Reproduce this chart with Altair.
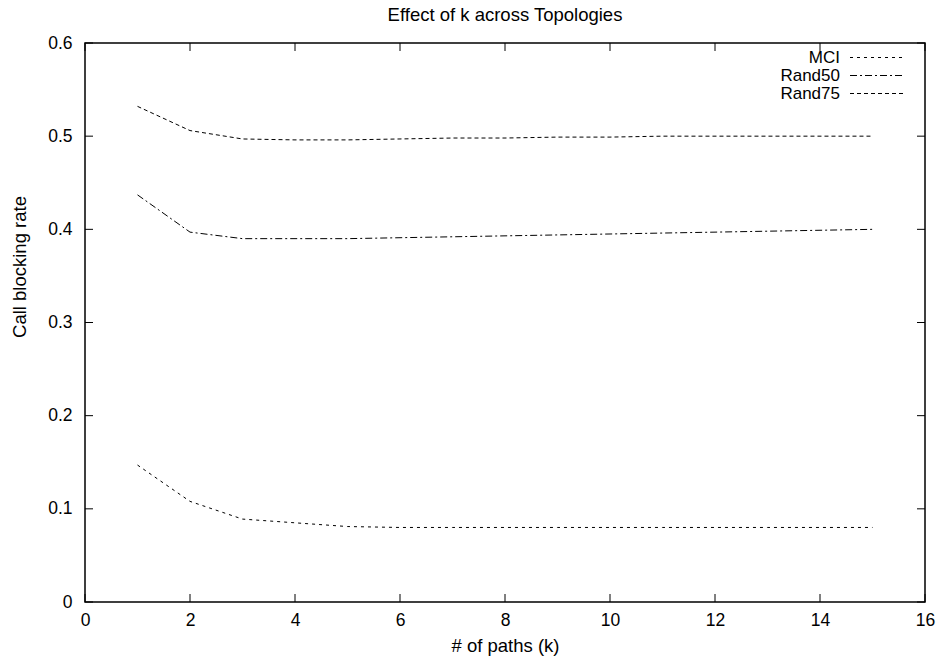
import altair as alt
import pandas as pd

k_values = list(range(1, 16))
mci = [0.147, 0.108, 0.089, 0.085, 0.081, 0.080, 0.080, 0.080, 0.080, 0.080, 0.080, 0.080, 0.080, 0.080, 0.080]
rand50 = [0.437, 0.397, 0.390, 0.390, 0.390, 0.391, 0.392, 0.393, 0.394, 0.395, 0.396, 0.397, 0.398, 0.399, 0.400]
rand75 = [0.532, 0.506, 0.497, 0.496, 0.496, 0.497, 0.498, 0.498, 0.499, 0.499, 0.500, 0.500, 0.500, 0.500, 0.500]
series_names = ["MCI", "Rand50", "Rand75"]
x_ticks = list(range(0, 17, 2))
y_ticks = [0, 0.1, 0.2, 0.3, 0.4, 0.5, 0.6]

dashes = {"MCI": [3, 4], "Rand50": [7, 3, 2, 3], "Rand75": [4, 3]}

rows = []
for name, vals in zip(series_names, [mci, rand50, rand75]):
    for k, v in zip(k_values, vals):
        rows.append({"series": name, "k": k, "rate": v})
df = pd.DataFrame(rows)

W, H = 840, 559
FONT = "Liberation Sans"
FS_TICK = 17.5
FS_TITLE = 18.5
FS_LEG = 17

xscale = alt.Scale(domain=[0, 16], nice=False, zero=False)
yscale = alt.Scale(domain=[0, 0.6], nice=False, zero=False)

lines = alt.Chart(df).mark_line(color="black", strokeWidth=1).encode(
    x=alt.X("k:Q", scale=xscale,
            axis=alt.Axis(values=x_ticks, title="# of paths (k)", tickSize=0, labelPadding=9,
                          titlePadding=8, grid=False, domain=False, labelFlush=False,
                          labelFont=FONT, titleFont=FONT, labelFontSize=FS_TICK,
                          titleFontSize=FS_TITLE, labelColor="black", titleColor="black",
                          titleFontWeight="normal")),
    y=alt.Y("rate:Q", scale=yscale,
            axis=alt.Axis(values=y_ticks, title=None, tickSize=0, labelPadding=13,
                          grid=False, domain=False, format="~g", labelFlush=False,
                          labelFont=FONT, labelFontSize=FS_TICK, labelColor="black")),
    strokeDash=alt.StrokeDash("series:N", scale=alt.Scale(domain=series_names,
                                                          range=[dashes[n] for n in series_names]),
                              legend=None),
    detail="series:N",
)

xt = pd.DataFrame({"k": x_ticks})
yt = pd.DataFrame({"rate": y_ticks})
TL = 8
xt_bottom = alt.Chart(xt).mark_rule(color="black", strokeWidth=1).encode(
    x=alt.X("k:Q", scale=xscale), y=alt.value(H), y2=alt.value(H - TL))
xt_top = alt.Chart(xt).mark_rule(color="black", strokeWidth=1).encode(
    x=alt.X("k:Q", scale=xscale), y=alt.value(0), y2=alt.value(TL))
yt_left = alt.Chart(yt).mark_rule(color="black", strokeWidth=1).encode(
    y=alt.Y("rate:Q", scale=yscale), x=alt.value(0), x2=alt.value(TL))
yt_right = alt.Chart(yt).mark_rule(color="black", strokeWidth=1).encode(
    y=alt.Y("rate:Q", scale=yscale), x=alt.value(W), x2=alt.value(W - TL))

layers = [xt_bottom, xt_top, yt_left, yt_right, lines]

legend_y = {"MCI": 14.5, "Rand50": 32.5, "Rand75": 50.5}
for name in series_names:
    ld = pd.DataFrame({"label": [name]})
    layers.append(alt.Chart(ld).mark_text(align="right", baseline="middle", font=FONT,
                                          fontSize=FS_LEG, color="black").encode(
        text="label:N", x=alt.value(755), y=alt.value(legend_y[name])))
    layers.append(alt.Chart(ld).mark_rule(color="black", strokeWidth=1,
                                          strokeDash=dashes[name]).encode(
        x=alt.value(765), x2=alt.value(818), y=alt.value(legend_y[name])))

title_df = pd.DataFrame({"t": ["Effect of k across Topologies"]})
layers.append(alt.Chart(title_df).mark_text(align="center", baseline="middle", font=FONT,
                                            fontSize=FS_TITLE, color="black").encode(
    text="t:N", x=alt.value(W / 2), y=alt.value(-28)))

ytitle_df = pd.DataFrame({"t": ["Call blocking rate"]})
layers.append(alt.Chart(ytitle_df).mark_text(align="center", baseline="middle", font=FONT,
                                             fontSize=FS_TITLE, color="black", angle=270).encode(
    text="t:N", x=alt.value(-65), y=alt.value(224)))

chart = alt.layer(*layers).properties(
    width=W, height=H,
    background="white",
    autosize=alt.AutoSizeParams(type="none"),
    padding={"left": 85, "top": 43, "right": 18, "bottom": 57},
).configure_view(stroke="black", strokeWidth=1.5)

chart.save("out.html", embed_options={"renderer": "svg", "actions": False})
